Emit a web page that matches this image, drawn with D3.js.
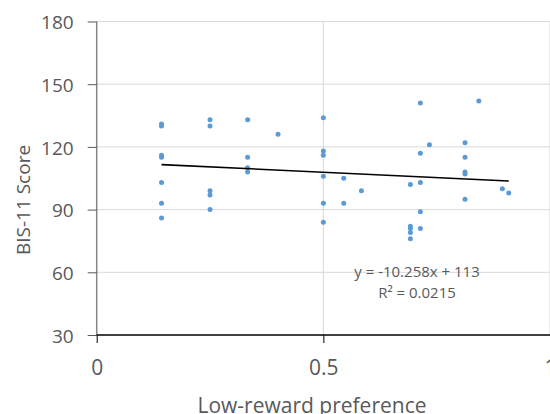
<!DOCTYPE html>
<meta charset="utf-8">
<style>
body { margin: 0; background: #fff; }
text { font-family: "Open Sans", sans-serif; fill: #595959; }
.grid line { stroke: #d9d9d9; stroke-width: 1; }
.dot { fill: #5b9bd5; }
</style>
<body>
<script src="https://cdnjs.cloudflare.com/ajax/libs/d3/7.8.5/d3.min.js"></script>
<script>

// data: low-reward preference (x) vs BIS-11 score (y)
var prefX = [0.143, 0.143, 0.143, 0.143, 0.143, 0.143, 0.143,
             0.25, 0.25, 0.25, 0.25, 0.25,
             0.333, 0.333, 0.333, 0.333,
             0.4,
             0.5, 0.5, 0.5, 0.5, 0.5, 0.5,
             0.545, 0.545,
             0.584,
             0.692, 0.692, 0.692, 0.692, 0.692,
             0.714, 0.714, 0.714, 0.714, 0.714,
             0.734,
             0.8125, 0.8125, 0.8125, 0.8125, 0.8125,
             0.843,
             0.895,
             0.909];
var bisY  = [131, 130, 116, 115, 103, 93, 86,
             133, 130, 99, 97, 90,
             133, 115, 110, 108,
             126,
             134, 118, 116, 106, 93, 84,
             105, 93,
             99,
             102, 82, 81, 79, 76,
             141, 117, 103, 89, 81,
             121,
             122, 115, 108, 107, 95,
             142,
             100,
             98];

var xTicks = [0, 0.5, 1];
var yTicks = [30, 60, 90, 120, 150, 180];

// trendline from the chart label
var slope = -10.258, intercept = 113;
var eqLabel = "y = -10.258x + 113";
var r2Label = "R² = 0.0215";

var margin = {top: 21.5, left: 96.7},
    width = 453.3,
    height = 313.5;

var x = d3.scaleLinear().domain([0, 1]).range([0, width]);
var y = d3.scaleLinear().domain([30, 180]).range([height, 0]);

var svg = d3.select("body").append("svg")
    .attr("width", 550)
    .attr("height", 414);

var g = svg.append("g")
    .attr("transform", "translate(" + margin.left + "," + margin.top + ")");

// gridlines
g.append("g").attr("class", "grid")
  .selectAll("line").data(yTicks.slice(1)).enter().append("line")
    .attr("x1", 0).attr("x2", width + 5)
    .attr("y1", d => y(d)).attr("y2", d => y(d));
g.append("g").attr("class", "grid")
  .selectAll("line").data(xTicks.slice(1)).enter().append("line")
    .attr("x1", d => x(d)).attr("x2", d => x(d))
    .attr("y1", 0).attr("y2", height);

// y axis
var yAxis = g.append("g")
    .call(d3.axisLeft(y).tickValues(yTicks).tickSize(9).tickPadding(14).tickFormat(d3.format("d")));
yAxis.select(".domain").attr("stroke", "#868686").attr("stroke-width", 1.5).attr("d", "M0," + height + "V0");
yAxis.selectAll(".tick line").attr("stroke", "#595959");
yAxis.selectAll("text").style("font-size", "19px").attr("fill", "#595959").attr("dy", "0.38em");

// x axis
var xAxis = g.append("g")
    .attr("transform", "translate(0," + height + ")")
    .call(d3.axisBottom(x).tickValues(xTicks).tickSize(8).tickPadding(17).tickFormat(d => d));
xAxis.select(".domain").attr("stroke", "#000").attr("stroke-width", 1.3).attr("d", "M0,0H" + (width + 5));
xAxis.selectAll(".tick line").attr("stroke", "#000");
xAxis.selectAll("text").style("font-size", "21px").attr("fill", "#595959");

// points
g.selectAll(".dot")
    .data(prefX.map((v, i) => [v, bisY[i]]))
  .enter().append("circle")
    .attr("class", "dot")
    .attr("cx", d => x(d[0]))
    .attr("cy", d => y(d[1]))
    .attr("r", 2.5);

// trendline
var xMin = d3.min(prefX), xMax = d3.max(prefX);
g.append("line")
    .attr("x1", x(xMin)).attr("y1", y(slope * xMin + intercept))
    .attr("x2", x(xMax)).attr("y2", y(slope * xMax + intercept))
    .attr("stroke", "#000")
    .attr("stroke-width", 1.6);

// equation labels
svg.append("text")
    .attr("x", 417).attr("y", 277)
    .attr("text-anchor", "middle")
    .style("font-size", "15px")
    .text(eqLabel);
svg.append("text")
    .attr("x", 417).attr("y", 298)
    .attr("text-anchor", "middle")
    .style("font-size", "15px")
    .text(r2Label);

// axis titles
svg.append("text")
    .attr("transform", "translate(30,200) rotate(-90)")
    .attr("text-anchor", "middle")
    .style("font-size", "19px")
    .text("BIS-11 Score");

svg.append("text")
    .attr("x", 312).attr("y", 413)
    .attr("text-anchor", "middle")
    .style("font-size", "21px")
    .text("Low-reward preference");

</script>
</body>
